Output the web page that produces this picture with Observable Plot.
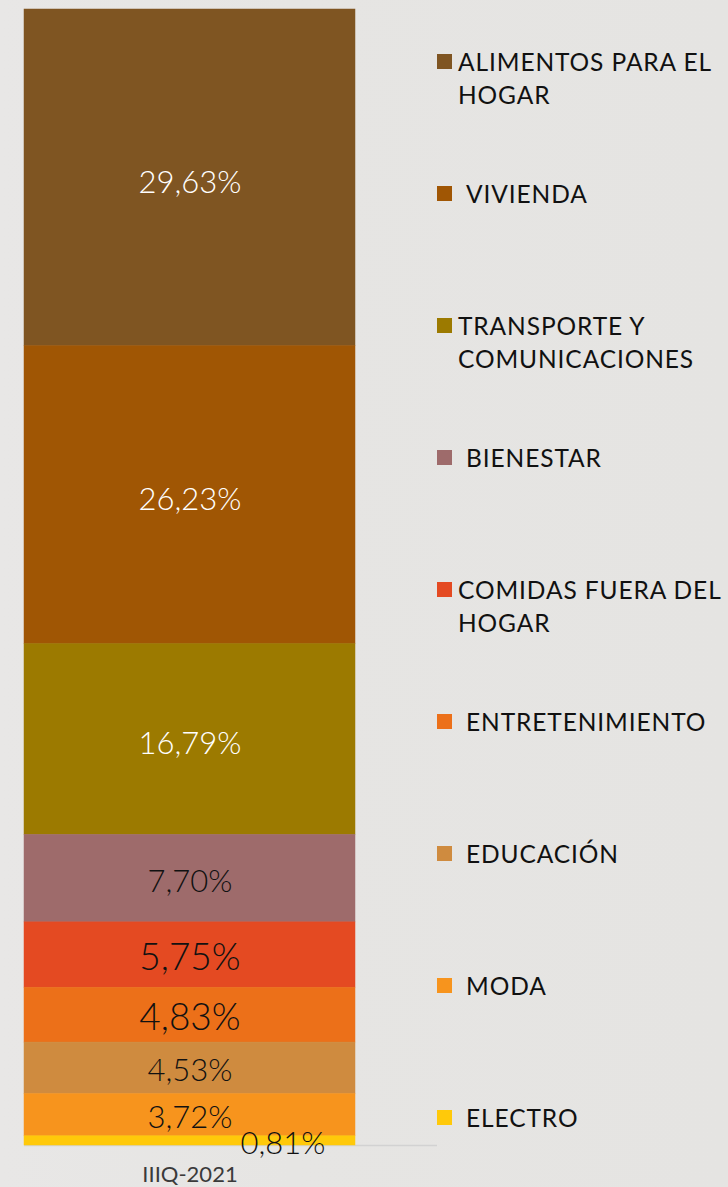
<!DOCTYPE html>
<html>
<head>
<meta charset="utf-8">
<script src="https://cdn.jsdelivr.net/npm/d3@7"></script>
<script src="https://cdn.jsdelivr.net/npm/@observablehq/plot@0.6"></script>
<style>
  html, body { margin: 0; padding: 0; background: #e6e5e3; }
  #wrap { position: relative; width: 728px; height: 1187px; overflow: hidden;
          background: linear-gradient(90deg, #e8e7e6 0%, #e6e5e3 40%, #e5e4e2 100%);
          font-family: Lato, "Open Sans", sans-serif; }
  #chart { position: absolute; left: 0; top: 0; }
  .item { position: absolute; left: 437px; display: flex; align-items: flex-start;
          font-size: 24.5px; line-height: 33px; color: #111; font-weight: 400; letter-spacing: 0.9px; }
  .sw { width: 15px; height: 15px; flex: none; margin-top: 9px; }
  .lab { width: 276px; }
</style>
</head>
<body>
<div id="wrap"><div id="chart"></div><div id="legend"></div></div>
<script>
const quarter = "IIIQ-2021";
const categories = ["ALIMENTOS PARA EL HOGAR", "VIVIENDA", "TRANSPORTE Y COMUNICACIONES", "BIENESTAR",
  "COMIDAS FUERA DEL HOGAR", "ENTRETENIMIENTO", "EDUCACIÓN", "MODA", "ELECTRO"];
const values = [29.63, 26.23, 16.79, 7.70, 5.75, 4.83, 4.53, 3.72, 0.81];
const valueLabels = ["29,63%", "26,23%", "16,79%", "7,70%", "5,75%", "4,83%", "4,53%", "3,72%", "0,81%"];
const colors = ["#7f5522", "#a05604", "#9c7a00", "#9e6b6b", "#e44a22", "#ec7019", "#cf8b3f", "#f7941d", "#ffc90a"];

const data = categories.map((c, i) => ({quarter, category: c, value: values[i], label: valueLabels[i], i}));

const stackOpts = (extra) => Plot.stackY({x: "quarter", y: "value", reverse: true, ...extra});

const chart = Plot.plot({
  width: 728,
  height: 1187,
  marginTop: 9,
  marginBottom: 42,
  marginLeft: 24,
  marginRight: 291,
  style: {background: "transparent", color: "#3a3a3a", fontFamily: "Lato, 'Open Sans', sans-serif", fontSize: "22px", fontWeight: 400},
  x: {domain: [quarter], range: [24, 355], padding: 0, tickSize: 0, tickPadding: 21, label: null},
  y: {domain: [0, d3.sum(values)], axis: null},
  color: {domain: categories, range: colors},
  marks: [
    Plot.ruleY([0], {stroke: "#d2d2d2", strokeWidth: 1.5}),
    Plot.barY(data, stackOpts({fill: "category", stroke: "category", strokeWidth: 0.5})),
    Plot.text(data, stackOpts({text: d => d.i < 3 ? d.label : null, fill: "white", fontSize: 31, fontWeight: 300, dy: 5})),
    Plot.text(data, stackOpts({text: d => (d.i === 3 || d.i === 6 || d.i === 7) ? d.label : null, fill: "#111", fontSize: 31, fontWeight: 300, dy: 3})),
    Plot.text(data, stackOpts({text: d => (d.i === 4 || d.i === 5) ? d.label : null, fill: "#111", fontSize: 37, fontWeight: 300, dy: 3})),
    Plot.text(data, stackOpts({text: d => d.i === 8 ? d.label : null, fill: "#111", fontSize: 31, fontWeight: 300, dx: 93, dy: 3}))
  ]
});
document.getElementById("chart").appendChild(chart);

const legend = document.getElementById("legend");
categories.forEach((c, i) => {
  const item = document.createElement("div");
  item.className = "item";
  item.style.top = (61 + i * 132 - 16.5) + "px";
  const sw = document.createElement("span");
  sw.className = "sw";
  sw.style.background = colors[i];
  const lab = document.createElement("span");
  lab.className = "lab";
  lab.textContent = c;
  lab.style.marginLeft = c.length > 16 ? "6px" : "14px";
  item.appendChild(sw);
  item.appendChild(lab);
  legend.appendChild(item);
});
</script>
</body>
</html>
